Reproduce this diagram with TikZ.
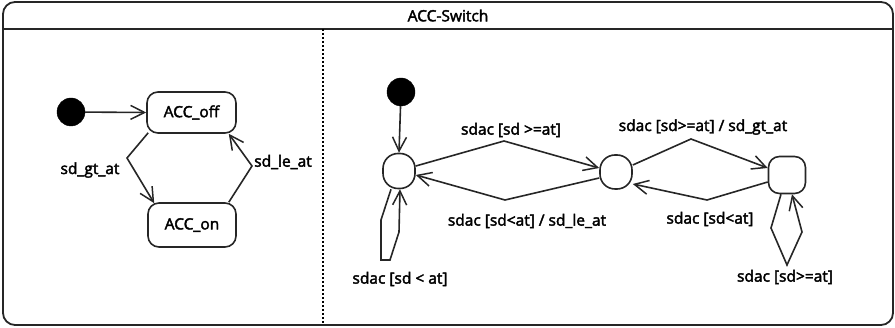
\documentclass[tikz,border=0pt]{standalone}
\usepackage{fontspec}
\setmainfont{Open Sans}[FakeBold=2.5]
\usetikzlibrary{arrows.meta,calc}
\begin{document}
\begin{tikzpicture}[x=1pt,y=1pt,
  every node/.style={font=\fontsize{15.5}{18}\selectfont},
  ln/.style={line width=1.6pt, draw=black!85},
  tr/.style={ln, -{Straight Barb[length=14pt,width=14pt,line width=1.5pt]}},
  statebox/.style={ln, rectangle, rounded corners=11pt, inner sep=0pt},
  pseudo/.style={ln, rectangle, inner sep=0pt},
  initdot/.style={circle, fill=black, draw=black, minimum size=28pt, inner sep=0pt},
  lbl/.style={inner sep=1pt}]
\useasboundingbox (0,0) rectangle (895,-328);
% frame
\draw[ln, line width=1.8pt, rounded corners=12pt] (3,-325) -- (3,-2) -- (893,-2) -- (893,-325) -- cycle;
\draw[ln, line width=1.8pt] (3,-29) -- (893,-29);
\node (title) at (448,-15.5) {ACC-Switch};
\draw[line width=1.2pt, dash pattern=on 2.5pt off 1.5pt] (323,-29) -- (323,-325);
% left region
\node[initdot] (ini1) at (71,-112) {};
\node[statebox, minimum width=89pt, minimum height=41pt] (offA) at (191.5,-112.5) {ACC\_off};
\node[statebox, minimum width=88pt, minimum height=44pt] (onA) at (192,-225) {ACC\_on};
\draw[tr] (ini1) -- (offA.west);
\coordinate (k1) at (127,-158);
\coordinate (k2) at (252,-166);
\draw[tr] ([xshift=2pt,yshift=1pt]offA.south west) -- (k1) -- ([xshift=7pt,yshift=-1pt]onA.north west);
\draw[tr] ([xshift=-8pt]onA.north east) -- (k2) -- ([xshift=-8pt]offA.south east);
\node[lbl] (l1) at (90,-170) {sd\_gt\_at};
\node[lbl] (l2) at (283,-162) {sd\_le\_at};
% right region
\node[initdot] (ini2) at (401,-92) {};
\node[pseudo, minimum width=32pt, minimum height=35pt, rounded corners=15pt] (s1) at (399,-171) {};
\node[pseudo, minimum width=32pt, minimum height=34pt, rounded corners=15pt] (s2) at (616,-172) {};
\node[pseudo, minimum width=37pt, minimum height=37pt, rounded corners=11pt] (s3) at (787,-175) {};
\draw[tr] (ini2) -- (s1.north);
\coordinate (p1) at (504,-141);
\coordinate (p2) at (505,-200);
\coordinate (p3) at (691,-139);
\coordinate (p4) at (707,-200);
\draw[tr] ([yshift=5pt]s1.east) -- (p1) -- ([yshift=4pt]s2.west);
\draw[tr] ([yshift=-6pt]s2.west) -- (p2) -- ([yshift=-4pt]s1.east);
\draw[tr] ([yshift=7pt]s2.east) -- (p3) -- ([yshift=7pt]s3.west);
\draw[tr] ([yshift=-7pt]s3.west) -- (p4) -- ([yshift=-12pt]s2.east);
% self loops
\coordinate (a1) at (381,-220);
\coordinate (a2) at (381,-260);
\coordinate (a3) at (390,-260);
\coordinate (a4) at (399,-232);
\draw[tr] ([xshift=-8pt]s1.south) -- (a1) -- (a2) -- (a3) -- (a4) -- ([xshift=1pt]s1.south);
\coordinate (b1) at (771,-228);
\coordinate (b2) at (787,-265);
\coordinate (b3) at (802,-232);
\draw[tr] ([xshift=-6pt]s3.south) -- (b1) -- (b2) -- (b3) -- ([xshift=5pt]s3.south);
% labels
\node[lbl] (t1) at (511,-130) {sdac [sd >=at]};
\node[lbl] (t2) at (527,-221) {sdac [sd<at] / sd\_le\_at};
\node[lbl] (t3) at (400,-279) {sdac [sd < at]};
\node[lbl] (t4) at (703,-127) {sdac [sd>=at] / sd\_gt\_at};
\node[lbl] (t5) at (710,-219) {sdac [sd<at]};
\node[lbl] (t6) at (785,-277) {sdac [sd>=at]};
\end{tikzpicture}
\end{document}
